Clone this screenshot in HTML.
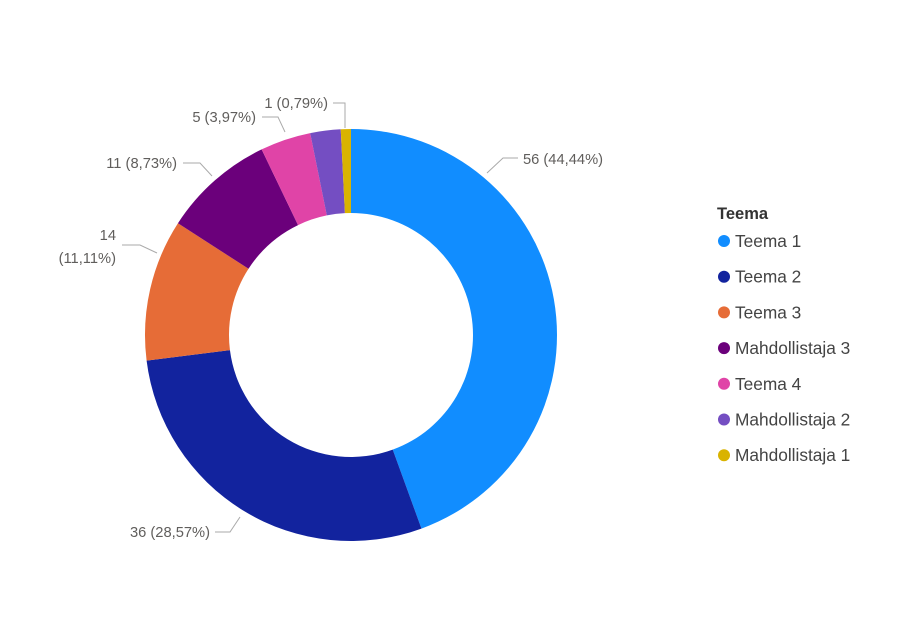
<!DOCTYPE html>
<html><head><meta charset="utf-8"><style>
body{margin:0;background:#fff;}
svg text{font-family:"Liberation Sans","DejaVu Sans",sans-serif;}
</style></head><body>
<svg id="s" width="915" height="637" xmlns="http://www.w3.org/2000/svg">
<g id="arcs"></g>
<g fill="none" stroke="#aaa" stroke-width="1">
<polyline points="487,173 503,158 518,158"/>
<polyline points="240,517 230,532 215,532"/>
<polyline points="157,253 140,245 122,245"/>
<polyline points="212,176 200,163 183,163"/>
<polyline points="285,132 278,117 262,117"/>
<polyline points="345,128 345,103 333,103"/>
</g>
<g font-size="14.7" fill="#605E5C">
<text x="523" y="164">56 (44,44%)</text>
<text x="210" y="537" text-anchor="end">36 (28,57%)</text>
<text x="116" y="240" text-anchor="end">14</text>
<text x="116" y="263" text-anchor="end">(11,11%)</text>
<text x="177" y="168" text-anchor="end">11 (8,73%)</text>
<text x="256" y="122" text-anchor="end">5 (3,97%)</text>
<text x="328" y="108" text-anchor="end">1 (0,79%)</text>
</g>
<text x="717" y="219" font-size="16.5" font-weight="bold" fill="#333">Teema</text>
<g id="leg" font-size="17.3" fill="#444"></g>
</svg>
<script>
var d=[[56,"#118DFF","Teema 1"],[36,"#12239E","Teema 2"],[14,"#E66C37","Teema 3"],[11,"#6B007B","Mahdollistaja 3"],[5,"#E044A7","Teema 4"],[3,"#744EC2","Mahdollistaja 2"],[1,"#D9B300","Mahdollistaja 1"]];
var cx=351,cy=335,R=206,r=122,T=126,a=0,g=document.getElementById("arcs"),L=document.getElementById("leg"),ns="http://www.w3.org/2000/svg";
function p(rad,ang){return [cx+rad*Math.sin(ang),cy-rad*Math.cos(ang)];}
d.forEach(function(e,i){var a0=a/T*2*Math.PI;a+=e[0];var a1=a/T*2*Math.PI;var lg=(a1-a0)>Math.PI?1:0;
var A=p(R,a0),B=p(R,a1),C=p(r,a1),D=p(r,a0);
var path=document.createElementNS(ns,"path");
path.setAttribute("d","M"+A+" A"+R+" "+R+" 0 "+lg+" 1 "+B+" L"+C+" A"+r+" "+r+" 0 "+lg+" 0 "+D+"Z");
path.setAttribute("fill",e[1]);g.appendChild(path);
var y=241+i*35.7;var c=document.createElementNS(ns,"circle");c.setAttribute("cx",724);c.setAttribute("cy",y);c.setAttribute("r",6);c.setAttribute("fill",e[1]);L.appendChild(c);
var t=document.createElementNS(ns,"text");t.setAttribute("x",735);t.setAttribute("y",y+6);t.textContent=e[2];L.appendChild(t);});
</script>
</body></html>
